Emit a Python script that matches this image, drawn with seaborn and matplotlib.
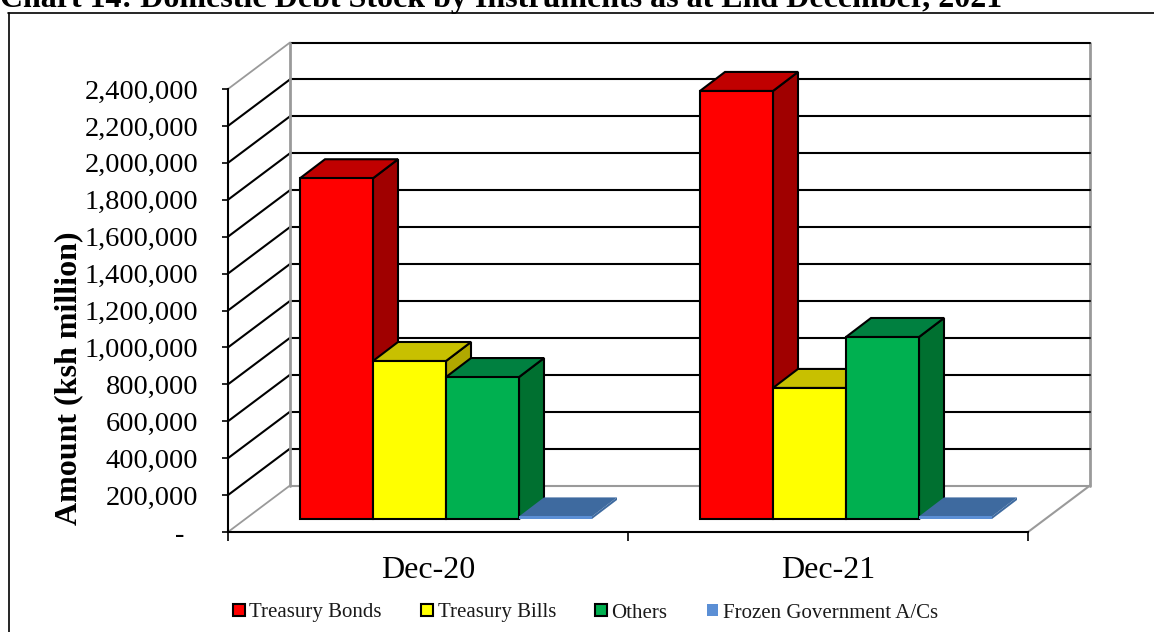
import matplotlib
matplotlib.use("Agg")
import matplotlib.pyplot as plt
from matplotlib.patches import Patch, Polygon
from matplotlib.ticker import FuncFormatter
import pandas as pd
import seaborn as sns

# Domestic debt stock, Ksh million
periods = ["Dec-20", "Dec-21"]
instruments = ["Treasury Bonds", "Treasury Bills", "Others", "Frozen Government A/Cs"]
treasury_bonds = [1846000, 2319000]
treasury_bills = [856000, 710000]
others = [769000, 986000]
frozen_accounts = [14000, 14000]
y_ticks = list(range(0, 2400001, 200000))

front_colors = ["#FF0000", "#FFFF00", "#00B050", "#5B8FD5"]
top_colors = ["#C00000", "#C8C000", "#008040", "#3E6A9F"]
side_colors = ["#A00000", "#B0A800", "#007030", "#3E6A9F"]
edge_colors = ["black", "black", "black", "none"]

# Oblique projection offsets, in data units
WALL_DX, WALL_DY = 0.155, 251900
BAR_DX, BAR_DY = 0.0625, 103000
FLOOR_DX, FLOOR_DY = 0.045, 70400
WALL_GRAY = "#9A9A9A"
LINE_W = 1.5

sns.set_style("white")
plt.rcParams["font.family"] = ["Liberation Serif", "DejaVu Serif"]

table = pd.DataFrame({
    "period": periods * 4,
    "instrument": [name for name in instruments for _ in periods],
    "amount": treasury_bonds + treasury_bills + others + frozen_accounts,
})

fig = plt.figure(figsize=(11.54, 6.32), dpi=100, facecolor="white")
ax = fig.add_axes([228 / 1154, 1 - 532 / 632, 800 / 1154, 443 / 632], facecolor="none")

sns.barplot(
    data=table, x="period", y="amount", hue="instrument",
    order=periods, hue_order=instruments, palette=front_colors,
    width=0.73, gap=0, saturation=1, legend=False, ax=ax,
)
ax.set_xlim(-0.5, 1.5)
ax.set_ylim(0, 2400000)


def face(points, color, edge, order):
    ax.add_patch(Polygon(points, closed=True, facecolor=color, edgecolor=edge,
                         linewidth=LINE_W, joinstyle="miter", clip_on=False, zorder=order))


# Walls, floor and gridlines behind the bars
x0, x1 = ax.get_xlim()
for tick in y_ticks:
    color = WALL_GRAY if tick == 0 else "black"
    ax.plot([x0 + WALL_DX, x1 + WALL_DX], [tick + WALL_DY] * 2, color=color,
            lw=LINE_W, clip_on=False, zorder=1)
    side = WALL_GRAY if tick in (0, y_ticks[-1]) else "black"
    ax.plot([x0, x0 + WALL_DX], [tick, tick + WALL_DY], color=side,
            lw=LINE_W if side == "black" else 1.3, clip_on=False, zorder=1)
ax.plot([x0 + WALL_DX] * 2, [WALL_DY, y_ticks[-1] + WALL_DY], color=WALL_GRAY, lw=2, clip_on=False, zorder=1.5)
ax.plot([x1 + WALL_DX] * 2, [WALL_DY, y_ticks[-1] + WALL_DY], color=WALL_GRAY, lw=2, clip_on=False, zorder=0.5)
ax.plot([x1, x1 + WALL_DX], [0, WALL_DY], color=WALL_GRAY, lw=1.5, clip_on=False, zorder=1)

# Move the library's bars onto the floor and extrude each of them
bars = sorted(ax.patches, key=lambda r: r.get_x())
for order, bar in enumerate(bars):
    series = order % 4
    bar.set_x(bar.get_x() + FLOOR_DX)
    bar.set_y(FLOOR_DY)
    left, width, height = bar.get_x(), bar.get_width(), bar.get_height()
    right, low, high = left + width, FLOOR_DY, FLOOR_DY + height
    z = 3 + order
    bar.set(edgecolor=edge_colors[series], linewidth=LINE_W, zorder=z + 0.2, clip_on=False)
    edge = edge_colors[series]
    face([(right, low), (right + BAR_DX, low + BAR_DY), (right + BAR_DX, high + BAR_DY), (right, high)],
         side_colors[series], edge, z)
    face([(left, high), (left + BAR_DX, high + BAR_DY), (right + BAR_DX, high + BAR_DY), (right, high)],
         top_colors[series], edge, z + 0.1)

# Axes, ticks and labels
for name in ("top", "right"):
    ax.spines[name].set_visible(False)
for name in ("left", "bottom"):
    ax.spines[name].set(color="black", linewidth=LINE_W, zorder=2)

ax.set_yticks(y_ticks)
ax.yaxis.set_major_formatter(FuncFormatter(lambda v, _: f"{int(v):,}" if v else "-  "))
ax.tick_params(axis="y", which="major", left=True, length=4.5, width=1.2, color="black",
               pad=17, labelsize=20.4, labelcolor="black")
ax.set_xticks([-0.5, 0.5, 1.5])
ax.set_xticklabels([])
ax.set_xticks([0, 1], labels=periods, minor=True)
ax.tick_params(axis="x", which="major", bottom=True, length=6.5, width=1.2, color="black")
ax.tick_params(axis="x", which="minor", bottom=False, length=0, pad=17.5, labelsize=23, labelcolor="black")
ax.set_xlabel("")
ax.set_ylabel("Amount (ksh million)", fontsize=23, fontweight="bold", color="black")
ax.yaxis.set_label_coords(-0.181, 0.348)

handles = [
    Patch(facecolor=f, edgecolor=e, linewidth=LINE_W if e != "none" else 0, label=name)
    for f, e, name in zip(front_colors, edge_colors, instruments)
]
fig.legend(
    handles=handles, ncol=4, frameon=False, fontsize=15,
    loc="center left", bbox_to_anchor=(233 / 1154, 1 - 613 / 632),
    borderpad=0, borderaxespad=0, handlelength=0.56, handleheight=0.56,
    handletextpad=0.23, columnspacing=1.88, labelcolor="#1A1A1A",
)

# Report-style heading with its rule and the frame around the chart
fig.text(0.0, 1 - 7 / 632, "Chart 14: Domestic Debt Stock by Instruments as at End December, 2021",
         fontsize=23.05, fontweight="bold", color="black", va="baseline", ha="left")
fig.add_artist(plt.Line2D([8 / 1154, 1], [1 - 12.5 / 632] * 2, color="black", lw=1.2))
fig.add_artist(plt.Line2D([8.5 / 1154] * 2, [1 - 12.5 / 632, 0], color="black", lw=1.2))

fig.savefig("out.png", dpi=100, facecolor="white")
